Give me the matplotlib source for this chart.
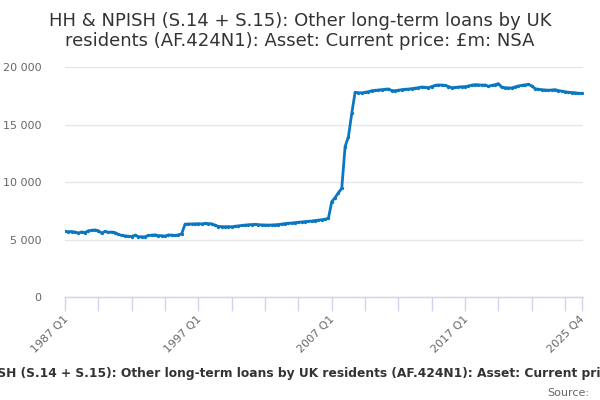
import matplotlib
matplotlib.use("Agg")
import matplotlib.pyplot as plt
from matplotlib.ticker import FuncFormatter, FixedLocator
import matplotlib.transforms as mtransforms

title = "HH & NPISH (S.14 + S.15): Other long-term loans by UK\nresidents (AF.424N1): Asset: Current price: £m: NSA"
caption = "HH & NPISH (S.14 + S.15): Other long-term loans by UK residents (AF.424N1): Asset: Current price: £m: NSA"
source = "Source:"

years = list(range(1987, 2026))
quarters = [f"{y} Q{q}" for y in years for q in range(1, 5)]

values = [
    5700, 5680, 5690, 5650,   # 1987
    5560, 5660, 5600, 5760,   # 1988
    5800, 5830, 5760, 5560,   # 1989
    5700, 5620, 5650, 5600,   # 1990
    5450, 5350, 5320, 5280,   # 1991
    5260, 5380, 5250, 5230,   # 1992
    5240, 5350, 5380, 5400,   # 1993
    5340, 5330, 5290, 5400,   # 1994
    5380, 5350, 5400, 5500,   # 1995
    6330, 6350, 6350, 6360,   # 1996
    6380, 6350, 6400, 6380,   # 1997
    6360, 6240, 6130, 6120,   # 1998
    6110, 6120, 6100, 6150,   # 1999
    6180, 6220, 6250, 6280,   # 2000
    6300, 6310, 6290, 6270,   # 2001
    6260, 6250, 6260, 6280,   # 2002
    6300, 6340, 6380, 6410,   # 2003
    6430, 6470, 6500, 6520,   # 2004
    6560, 6580, 6600, 6650,   # 2005
    6680, 6720, 6760, 6840,   # 2006
    8290, 8640, 9070, 9450,   # 2007
    13070, 13940, 15970, 17800,  # 2008
    17760, 17750, 17800, 17850,  # 2009
    17940, 17960, 18000, 18030,  # 2010
    18060, 18090, 17950, 17940,  # 2011
    17980, 18030, 18060, 18080,  # 2012
    18115, 18160, 18200, 18260,  # 2013
    18230, 18200, 18300, 18400,  # 2014
    18435, 18430, 18405, 18300,  # 2015
    18200, 18220, 18260, 18280,  # 2016
    18290, 18350, 18420, 18465,  # 2017
    18450, 18420, 18435, 18320,  # 2018
    18400, 18460, 18550, 18230,  # 2019
    18200, 18175, 18180, 18270,  # 2020
    18350, 18400, 18450, 18490,  # 2021
    18350, 18115, 18060, 18030,  # 2022
    18000, 17980, 18000, 18030,  # 2023
    17950, 17900, 17855, 17800,  # 2024
    17780, 17760, 17710, 17700,  # 2025
]

yticks = [0, 5000, 10000, 15000, 20000]
label_quarters = ["1987 Q1", "1997 Q1", "2007 Q1", "2017 Q1", "2025 Q4"]

line_color = "#0a77c2"
text_dark = "#333333"
text_grey = "#666666"
axis_color = "#ccd6eb"
grid_color = "#e6e6e6"

fig = plt.figure(figsize=(6, 4), dpi=100)
ax = fig.add_axes([65/600, 1-297/400, (583-65)/600, (297-67)/400])

x = list(range(len(values)))
ax.plot(x, values, color=line_color, lw=2, marker="o", ms=2.4,
        markeredgewidth=0, zorder=3, solid_joinstyle="round")

ax.set_xlim(0, len(values) - 1 + 0.35)
ax.set_ylim(0, 20000)

ax.set_yticks(yticks)
ax.yaxis.set_major_formatter(FuncFormatter(lambda v, p: f"{int(v):,}".replace(",", " ")))
ax.grid(axis="y", color=grid_color, lw=1)
ax.set_axisbelow(True)
ax.tick_params(axis="y", length=0, pad=17, labelsize=8, labelcolor=text_grey)

tick_pos = list(range(0, len(values), 10)) + [len(values) - 1]
ax.xaxis.set_minor_locator(FixedLocator(tick_pos))
label_pos = [quarters.index(q) for q in label_quarters]
ax.set_xticks(label_pos)
ax.set_xticklabels(label_quarters)
ax.tick_params(axis="x", which="both", length=10, width=1, color=axis_color,
               labelsize=8, labelcolor=text_grey, pad=2)
offset = mtransforms.ScaledTranslation(5/100, 0, fig.dpi_scale_trans)
for lab in ax.get_xticklabels():
    lab.set_rotation(45)
    lab.set_ha("right")
    lab.set_va("top")
    lab.set_transform(lab.get_transform() + offset)

for s in ["top", "right", "left"]:
    ax.spines[s].set_visible(False)
ax.spines["bottom"].set_color(axis_color)
ax.spines["bottom"].set_linewidth(1)

fig.text(0.5, 1 - 31/400, title, ha="center", va="center", fontsize=13,
         color=text_dark, linespacing=1.2)
fig.text(309/600, 1 - 373/400, caption, ha="center", va="center", fontsize=8.8,
         fontweight="bold", color=text_dark)
fig.text(589/600, 1 - 393/400, source, ha="right", va="center", fontsize=8,
         color=text_grey)

fig.savefig("out.png", dpi=100)
